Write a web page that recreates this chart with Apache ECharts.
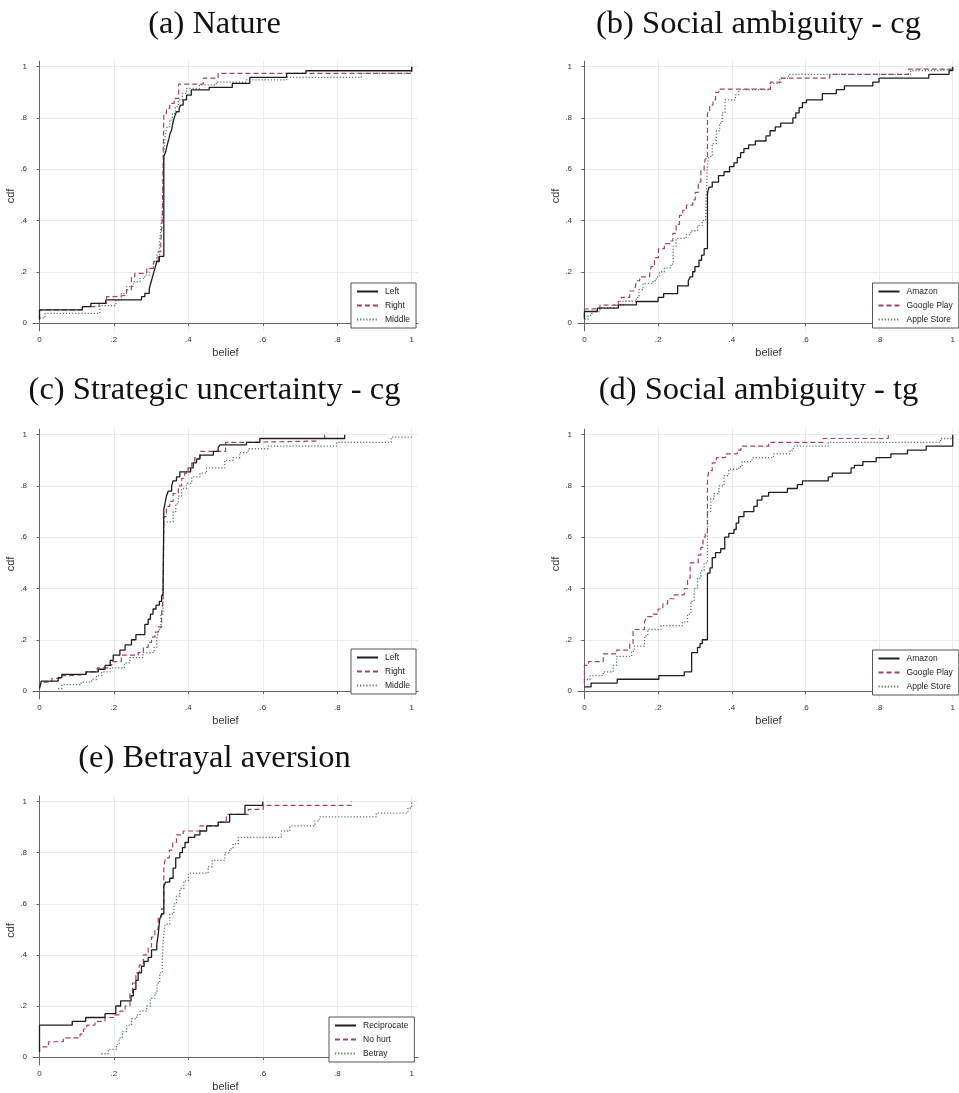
<!DOCTYPE html>
<html><head><meta charset="utf-8">
<script src="https://cdn.jsdelivr.net/npm/echarts@6.0.0/dist/echarts.min.js"></script>
<style>html,body{margin:0;padding:0;background:#fff}#c{width:959px;height:1093px}</style>
</head><body><div id="c"></div><script>
// ---------- DATA ----------
const tickValues = [0, 0.2, 0.4, 0.6, 0.8, 1];
const tickLabels = ['0', '.2', '.4', '.6', '.8', '1'];
const xAxisTitle = 'belief';
const yAxisTitle = 'cdf';
const panelTitles = ['(a) Nature', '(b) Social ambiguity - cg', '(c) Strategic uncertainty - cg', '(d) Social ambiguity - tg', '(e) Betrayal aversion'];
const locationNames = ['Left', 'Right', 'Middle'];
const storeNames = ['Amazon', 'Google Play', 'Apple Store'];
const betrayalNames = ['Reciprocate', 'No hurt', 'Betray'];

// (a) Nature
const natureLeft = [[0,0.013],[0,0.051],[0.115,0.064],[0.138,0.077],[0.178,0.09],[0.274,0.103],[0.283,0.116],[0.295,0.135],[0.3,0.161],[0.305,0.187],[0.31,0.213],[0.315,0.24],[0.322,0.26],[0.334,0.649],[0.339,0.668],[0.343,0.694],[0.348,0.72],[0.351,0.74],[0.355,0.753],[0.358,0.779],[0.363,0.805],[0.368,0.824],[0.375,0.837],[0.379,0.85],[0.386,0.87],[0.395,0.889],[0.408,0.909],[0.456,0.919],[0.518,0.935],[0.565,0.958],[0.664,0.974],[0.716,0.984],[1,1]];
const natureRight = [[0,0.013],[0,0.051],[0.115,0.064],[0.16,0.077],[0.18,0.103],[0.205,0.109],[0.234,0.129],[0.247,0.18],[0.256,0.194],[0.288,0.213],[0.307,0.24],[0.319,0.278],[0.326,0.317],[0.33,0.408],[0.334,0.818],[0.341,0.837],[0.35,0.857],[0.362,0.876],[0.374,0.932],[0.44,0.955],[0.48,0.974],[1,1]];
const natureMiddle = [[0,0.02],[0.015,0.038],[0.162,0.068],[0.205,0.09],[0.22,0.116],[0.234,0.142],[0.252,0.161],[0.27,0.174],[0.283,0.187],[0.295,0.213],[0.306,0.24],[0.315,0.265],[0.322,0.304],[0.326,0.369],[0.33,0.42],[0.334,0.655],[0.338,0.733],[0.343,0.766],[0.35,0.792],[0.357,0.818],[0.365,0.844],[0.373,0.87],[0.384,0.896],[0.395,0.915],[0.43,0.929],[0.475,0.94],[0.556,0.948],[0.664,0.958],[0.865,0.974],[1,1]];

// (b) Social ambiguity - cg
const cgAmazon = [[0,0.015],[0,0.045],[0.035,0.058],[0.092,0.071],[0.141,0.084],[0.2,0.1],[0.215,0.115],[0.253,0.145],[0.282,0.165],[0.287,0.18],[0.294,0.2],[0.3,0.22],[0.311,0.245],[0.318,0.265],[0.325,0.29],[0.334,0.505],[0.338,0.53],[0.347,0.55],[0.364,0.575],[0.379,0.59],[0.394,0.61],[0.406,0.625],[0.415,0.645],[0.424,0.665],[0.433,0.68],[0.446,0.695],[0.464,0.71],[0.493,0.73],[0.504,0.75],[0.518,0.765],[0.533,0.78],[0.566,0.8],[0.574,0.82],[0.583,0.84],[0.592,0.86],[0.603,0.87],[0.646,0.895],[0.684,0.91],[0.706,0.925],[0.783,0.94],[0.8,0.955],[0.935,0.97],[0.99,0.985],[1,1]];
const cgGoogle = [[0,0.02],[0,0.055],[0.042,0.07],[0.092,0.085],[0.1,0.1],[0.123,0.125],[0.136,0.13],[0.141,0.165],[0.15,0.18],[0.177,0.19],[0.181,0.22],[0.19,0.255],[0.201,0.29],[0.217,0.31],[0.232,0.32],[0.24,0.35],[0.249,0.385],[0.258,0.42],[0.267,0.44],[0.277,0.46],[0.294,0.48],[0.301,0.51],[0.309,0.55],[0.316,0.595],[0.325,0.615],[0.328,0.64],[0.334,0.82],[0.34,0.85],[0.349,0.87],[0.356,0.9],[0.365,0.912],[0.505,0.94],[0.536,0.955],[0.666,0.97],[0.88,0.99],[1,1]];
const cgApple = [[0,0.015],[0.01,0.03],[0.02,0.045],[0.042,0.06],[0.08,0.07],[0.105,0.085],[0.141,0.1],[0.148,0.13],[0.159,0.155],[0.186,0.165],[0.195,0.18],[0.204,0.2],[0.217,0.215],[0.235,0.23],[0.241,0.3],[0.249,0.33],[0.276,0.345],[0.289,0.36],[0.307,0.38],[0.32,0.4],[0.329,0.42],[0.334,0.62],[0.338,0.65],[0.347,0.7],[0.358,0.75],[0.367,0.78],[0.374,0.82],[0.382,0.87],[0.41,0.89],[0.419,0.91],[0.505,0.935],[0.53,0.955],[0.554,0.97],[0.886,0.985],[0.967,0.99],[1,1]];

// (c) Strategic uncertainty - cg
const suLeft = [[0,0.01],[0.005,0.039],[0.05,0.052],[0.06,0.065],[0.125,0.075],[0.158,0.085],[0.176,0.1],[0.19,0.12],[0.198,0.14],[0.216,0.16],[0.23,0.18],[0.247,0.2],[0.259,0.22],[0.283,0.26],[0.292,0.28],[0.298,0.3],[0.305,0.32],[0.313,0.335],[0.322,0.35],[0.328,0.37],[0.332,0.38],[0.334,0.71],[0.337,0.73],[0.341,0.76],[0.346,0.78],[0.355,0.8],[0.359,0.82],[0.368,0.835],[0.377,0.855],[0.406,0.87],[0.413,0.89],[0.422,0.905],[0.431,0.92],[0.467,0.935],[0.48,0.95],[0.485,0.96],[0.556,0.97],[0.592,0.985],[0.82,1]];
const suRight = [[0,0.02],[0,0.035],[0.033,0.05],[0.06,0.06],[0.08,0.065],[0.125,0.075],[0.155,0.09],[0.185,0.1],[0.194,0.115],[0.22,0.14],[0.265,0.15],[0.279,0.17],[0.292,0.19],[0.301,0.21],[0.31,0.23],[0.319,0.25],[0.328,0.3],[0.332,0.36],[0.334,0.68],[0.341,0.72],[0.35,0.74],[0.359,0.77],[0.373,0.8],[0.382,0.83],[0.39,0.85],[0.399,0.87],[0.409,0.89],[0.417,0.91],[0.431,0.935],[0.5,0.97],[0.556,0.975],[0.744,0.985],[0.766,1]];
const suMiddle = [[0.05,0.01],[0.06,0.025],[0.112,0.035],[0.14,0.045],[0.153,0.06],[0.167,0.075],[0.19,0.09],[0.228,0.11],[0.243,0.13],[0.278,0.15],[0.308,0.17],[0.315,0.2],[0.32,0.24],[0.326,0.3],[0.332,0.33],[0.334,0.66],[0.359,0.7],[0.366,0.73],[0.373,0.76],[0.382,0.79],[0.395,0.81],[0.409,0.835],[0.431,0.85],[0.449,0.87],[0.498,0.9],[0.52,0.91],[0.538,0.93],[0.561,0.945],[0.614,0.955],[0.798,0.97],[0.945,0.99],[1,1]];

// (d) Social ambiguity - tg
const tgAmazon = [[0,0.016],[0.018,0.031],[0.089,0.046],[0.202,0.06],[0.271,0.075],[0.291,0.15],[0.307,0.17],[0.314,0.185],[0.32,0.2],[0.334,0.46],[0.341,0.48],[0.347,0.52],[0.356,0.54],[0.37,0.555],[0.381,0.6],[0.392,0.615],[0.406,0.63],[0.412,0.655],[0.419,0.68],[0.433,0.7],[0.46,0.72],[0.469,0.745],[0.482,0.76],[0.5,0.775],[0.551,0.79],[0.578,0.805],[0.592,0.82],[0.662,0.835],[0.673,0.85],[0.724,0.87],[0.733,0.88],[0.756,0.895],[0.792,0.91],[0.832,0.925],[0.877,0.94],[0.928,0.955],[1,1]];
const tgGoogle = [[0,0.03],[0,0.1],[0.011,0.115],[0.051,0.145],[0.087,0.16],[0.123,0.185],[0.132,0.24],[0.163,0.27],[0.168,0.29],[0.186,0.3],[0.2,0.32],[0.213,0.34],[0.226,0.36],[0.244,0.375],[0.271,0.4],[0.28,0.44],[0.287,0.5],[0.309,0.53],[0.316,0.56],[0.322,0.6],[0.328,0.62],[0.334,0.83],[0.338,0.86],[0.347,0.89],[0.358,0.91],[0.383,0.925],[0.415,0.94],[0.425,0.955],[0.5,0.97],[0.648,0.985],[0.825,1]];
const tgApple = [[0,0.03],[0,0.045],[0.015,0.06],[0.051,0.075],[0.078,0.1],[0.087,0.135],[0.128,0.155],[0.136,0.175],[0.163,0.215],[0.172,0.24],[0.208,0.255],[0.266,0.27],[0.28,0.3],[0.289,0.35],[0.298,0.4],[0.307,0.44],[0.316,0.47],[0.325,0.5],[0.334,0.7],[0.343,0.75],[0.352,0.77],[0.365,0.8],[0.379,0.84],[0.392,0.865],[0.419,0.875],[0.428,0.895],[0.455,0.91],[0.513,0.925],[0.558,0.94],[0.567,0.955],[0.662,0.97],[0.967,0.985],[1,1]];

// (e) Betrayal aversion
const baReciprocate = [[0,0.02],[0,0.125],[0.088,0.14],[0.124,0.155],[0.176,0.17],[0.205,0.2],[0.218,0.22],[0.246,0.24],[0.252,0.265],[0.259,0.3],[0.265,0.33],[0.274,0.355],[0.281,0.375],[0.292,0.39],[0.301,0.42],[0.315,0.44],[0.319,0.48],[0.323,0.54],[0.328,0.56],[0.334,0.67],[0.339,0.685],[0.35,0.7],[0.359,0.74],[0.366,0.78],[0.377,0.8],[0.384,0.82],[0.391,0.84],[0.4,0.86],[0.417,0.87],[0.431,0.885],[0.449,0.905],[0.48,0.92],[0.511,0.95],[0.552,0.985],[0.6,1]];
const baNoHurt = [[0,0.02],[0,0.04],[0.024,0.06],[0.064,0.075],[0.109,0.09],[0.118,0.11],[0.127,0.125],[0.149,0.14],[0.176,0.155],[0.203,0.165],[0.216,0.18],[0.23,0.2],[0.243,0.25],[0.25,0.29],[0.259,0.33],[0.268,0.36],[0.279,0.4],[0.292,0.43],[0.301,0.47],[0.31,0.5],[0.319,0.55],[0.328,0.58],[0.334,0.75],[0.339,0.78],[0.349,0.81],[0.358,0.84],[0.368,0.87],[0.386,0.885],[0.431,0.905],[0.48,0.92],[0.502,0.95],[0.561,0.97],[0.601,0.985],[0.838,1]];
const baBetray = [[0.166,0.013],[0.185,0.03],[0.207,0.05],[0.214,0.075],[0.223,0.1],[0.234,0.125],[0.247,0.15],[0.261,0.165],[0.27,0.18],[0.288,0.2],[0.298,0.23],[0.31,0.25],[0.316,0.29],[0.323,0.33],[0.33,0.38],[0.332,0.45],[0.337,0.52],[0.35,0.56],[0.361,0.6],[0.368,0.63],[0.377,0.66],[0.388,0.69],[0.4,0.72],[0.453,0.745],[0.464,0.77],[0.498,0.8],[0.511,0.815],[0.52,0.835],[0.534,0.86],[0.65,0.885],[0.673,0.905],[0.74,0.925],[0.752,0.94],[0.905,0.955],[0.99,0.975],[1,1]];

// ---------- LAYOUT / STYLE ----------
const panels = [
  {title: panelTitles[0], names: locationNames, data: [natureLeft, natureRight, natureMiddle], gl: 33, gt: 61, tx: 214.5, ty: 8, ll: 351, lt: 283},
  {title: panelTitles[1], names: storeNames, data: [cgAmazon, cgGoogle, cgApple], gl: 578, gt: 61, tx: 758.5, ty: 8, ll: 872.5, lt: 283},
  {title: panelTitles[2], names: locationNames, data: [suLeft, suRight, suMiddle], gl: 33, gt: 429, tx: 214.5, ty: 374, ll: 351, lt: 649},
  {title: panelTitles[3], names: storeNames, data: [tgAmazon, tgGoogle, tgApple], gl: 578, gt: 429, tx: 758.5, ty: 374, ll: 872.5, lt: 650},
  {title: panelTitles[4], names: betrayalNames, data: [baReciprocate, baNoHurt, baBetray], gl: 33, gt: 796, tx: 214.5, ty: 742, ll: 329, lt: 1017}
];
const lineStyles = [
  {color: '#1e1e1e', width: 1.3, type: 'solid'},
  {color: '#a0445f', width: 1.2, type: [5, 3]},
  {color: '#5a7a5c', width: 1.3, type: [1.2, 1.9]}
];
const X_MIN = -0.0175, X_MAX = 1.017, Y_MIN = -0.031, Y_MAX = 1.022;
const GW = 385, GH = 270;
const sans = 'Liberation Sans, Arial, sans-serif';
const fmt = v => { let best = 0; tickValues.forEach((t, i) => { if (Math.abs(t - v) < Math.abs(tickValues[best] - v)) best = i; }); return tickLabels[best]; };

const option = {
  animation: false,
  backgroundColor: '#fff',
  title: [], grid: [], xAxis: [], yAxis: [], legend: [], series: []
};
panels.forEach((p, i) => {
  option.title.push({text: p.title, left: p.tx, top: p.ty, textAlign: 'center', padding: 0,
    textStyle: {fontFamily: 'Liberation Serif, Times New Roman, serif', fontWeight: 'normal', fontSize: 32.5, color: '#111', lineHeight: 32}});
  option.grid.push({left: p.gl, top: p.gt, width: GW, height: GH, containLabel: false});
  const axisCommon = {
    type: 'value',
    nameLocation: 'middle',
    nameTextStyle: {fontFamily: sans, fontSize: 11, color: '#333'},
    axisLine: {show: true, lineStyle: {color: '#666', width: 1}},
    axisTick: {show: true, length: 3, customValues: tickValues, lineStyle: {color: '#666'}},
    axisLabel: {customValues: tickValues, formatter: fmt, fontFamily: sans, fontSize: 8, color: '#333'},
    splitLine: {show: true, lineStyle: {color: '#ebebeb', width: 1}}
  };
  option.xAxis.push(Object.assign({}, axisCommon, {gridIndex: i, min: X_MIN, max: X_MAX, name: xAxisTitle, nameGap: 16,
    axisLabel: Object.assign({}, axisCommon.axisLabel, {margin: 5})}));
  option.yAxis.push(Object.assign({}, axisCommon, {gridIndex: i, min: Y_MIN, max: Y_MAX, name: yAxisTitle, nameGap: 17, nameRotate: 90,
    axisLabel: Object.assign({}, axisCommon.axisLabel, {margin: 6})}));
  option.legend.push({
    orient: 'vertical', left: p.ll, top: p.lt, data: p.names, selectedMode: false,
    itemWidth: 21, itemHeight: 8, itemGap: 5, padding: [4, 6, 4, 5],
    itemStyle: {opacity: 0},
    borderColor: '#555', borderWidth: 1, backgroundColor: '#fff', borderRadius: 0,
    textStyle: {fontFamily: sans, fontSize: 8.5, color: '#222', lineHeight: 8, padding: [0, 0, 0, 2]}
  });
  p.data.forEach((d, k) => {
    option.series.push({
      type: 'line', name: p.names[k], xAxisIndex: i, yAxisIndex: i, data: d,
      step: 'end', symbol: 'none', showSymbol: false,
      lineStyle: lineStyles[k], itemStyle: {color: lineStyles[k].color}, z: 3 - k
    });
  });
});
const chart = echarts.init(document.getElementById('c'), null, {renderer: 'canvas'});
chart.setOption(option);
</script></body></html>
